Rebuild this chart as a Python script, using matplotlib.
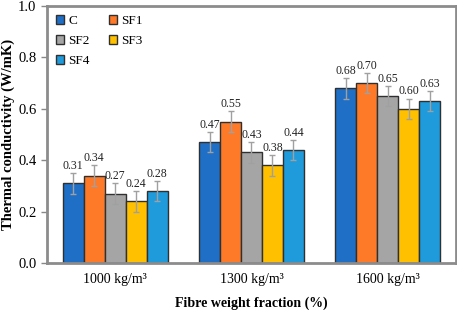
import matplotlib
matplotlib.use("Agg")
import matplotlib.pyplot as plt
import numpy as np

plt.rcParams['font.family'] = ['Liberation Serif', 'DejaVu Serif']

categories = ['1000 kg/m³', '1300 kg/m³', '1600 kg/m³']
series = ['C', 'SF1', 'SF2', 'SF3', 'SF4']
values = {
    'C':   [0.31, 0.47, 0.68],
    'SF1': [0.34, 0.55, 0.70],
    'SF2': [0.27, 0.43, 0.65],
    'SF3': [0.24, 0.38, 0.60],
    'SF4': [0.28, 0.44, 0.63],
}
errors = {
    'C':   [0.04, 0.04, 0.04],
    'SF1': [0.04, 0.04, 0.04],
    'SF2': [0.04, 0.04, 0.04],
    'SF3': [0.04, 0.04, 0.04],
    'SF4': [0.04, 0.04, 0.04],
}
colors = ['#1F6FC6', '#FF7A28', '#A5A5A5', '#FFC000', '#1F9ADB']

fig = plt.figure(figsize=(4.57, 3.10), dpi=100)
ax = fig.add_axes([47/457, 1-263/310, (456-47)/457, (263-6)/310])

x = np.arange(len(categories))
w = 0.154
handles = {}
for i, s in enumerate(series):
    pos = x + (i - 2) * w
    b = ax.bar(pos, values[s], width=w, color=colors[i], edgecolor='#303030',
               linewidth=1.0, label=s, zorder=2)
    handles[s] = b
    ax.errorbar(pos, values[s], yerr=errors[s], fmt='none', ecolor='#A0A0A0',
                elinewidth=1.0, capsize=2.5, capthick=1.0, zorder=3)
    for xp, v, e in zip(pos, values[s], errors[s]):
        ax.text(xp, v + e + 0.004, f'{v:.2f}', ha='center', va='bottom',
                fontsize=8.5, color='#222222', zorder=4)

ax.set_xlim(-0.5, 2.5)
ax.set_ylim(0, 1.0)
yt = np.arange(0, 1.01, 0.2)
ax.set_yticks(yt)
ax.set_yticklabels([f'{t:.1f}' for t in yt])
ax.set_xticks(x)
ax.set_xticklabels(categories)
ax.tick_params(axis='y', labelsize=10.5, length=4, color='#888888', width=1)
ax.tick_params(axis='x', labelsize=10, length=0, pad=7)
for sp in ax.spines.values():
    sp.set_color('#8C8C8C')
    sp.set_linewidth(2)

ax.set_ylabel('Thermal conductivity (W/mK)', fontsize=10.5, fontweight='bold', labelpad=2)
ax.set_xlabel('Fibre weight fraction (%)', fontsize=10, fontweight='bold', labelpad=8)

order = ['C', 'SF2', 'SF4', 'SF1', 'SF3']
leg = ax.legend([handles[s] for s in order], order, loc='upper left', ncol=2,
                frameon=False, fontsize=9.5,
                handlelength=0.6, handleheight=0.6, handletextpad=0.3,
                columnspacing=1.5, labelspacing=0.6, borderaxespad=0.3)

fig.savefig('out.png', dpi=100)
